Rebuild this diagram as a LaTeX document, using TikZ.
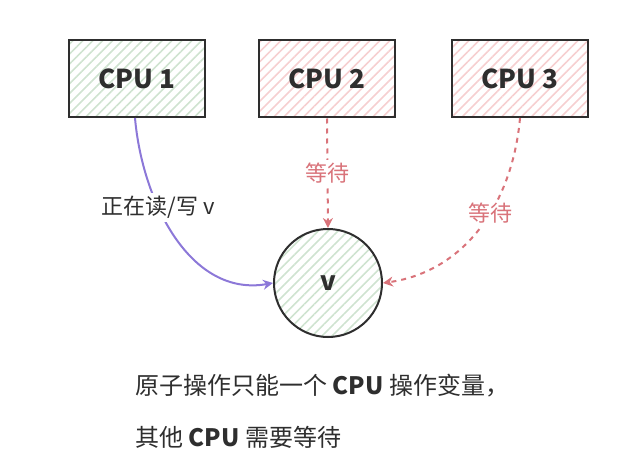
\documentclass[tikz,border=0pt]{standalone}
\usepackage{fontspec}
\setmainfont{Noto Sans CJK SC}
\usetikzlibrary{patterns.meta,arrows.meta}
\definecolor{boxline}{HTML}{2E2E2E}
\definecolor{greenhatch}{HTML}{CFE3D0}
\definecolor{redhatch}{HTML}{F6CFD0}
\definecolor{waitred}{HTML}{D9737A}
\definecolor{readpurple}{HTML}{8C78D8}
\tikzset{
  cpubox/.style={draw=boxline, line width=2pt, minimum width=136pt, minimum height=77pt, font=\fontsize{26}{30}\selectfont\bfseries, text=boxline},
  greenfill/.style={pattern={Lines[angle=45,distance=7pt,line width=1.6pt]}, pattern color=greenhatch},
  redfill/.style={pattern={Lines[angle=45,distance=7pt,line width=1.6pt]}, pattern color=redhatch},
  waitarrow/.style={draw=waitred, line width=2pt, dash pattern=on 5pt off 5pt, -{Stealth[length=10pt,width=10pt]}},
  readarrow/.style={draw=readpurple, line width=2pt, -{Stealth[length=10pt,width=10pt]}},
  lbl/.style={font=\fontsize{22}{26}\selectfont, fill=white, inner sep=3pt},
  note/.style={font=\fontsize{24}{28}\selectfont, text=boxline, anchor=west}
}
\begin{document}
\begin{tikzpicture}[x=1pt,y=-1pt]
\useasboundingbox (0,0) rectangle (628,470);
\node[cpubox, greenfill] (c1) at (136.5,79) {CPU 1};
\node[cpubox, redfill] (c2) at (327,79) {CPU 2};
\node[cpubox, redfill] (c3) at (520,79) {CPU 3};
\node[circle, draw=boxline, line width=2pt, greenfill, minimum size=108pt, font=\fontsize{26}{30}\selectfont\bfseries, text=boxline] (v) at (328,283) {v};
\draw[readarrow] (135,118) to[out=-85,in=190] node[lbl, pos=0.36, text=boxline] {正在读/写 v} (v.west);
\draw[waitarrow] (c2.south) -- node[lbl, pos=0.5, text=waitred] {等待} (v.north);
\draw[waitarrow] (520,118) to[out=-95,in=8] node[lbl, pos=0.42, text=waitred] {等待} (v.east);
\node[note] (t1) at (132,386) {原子操作只能一个 \textbf{CPU} 操作变量，};
\node[note] (t2) at (132,437) {其他 \textbf{CPU} 需要等待};
\end{tikzpicture}
\end{document}
